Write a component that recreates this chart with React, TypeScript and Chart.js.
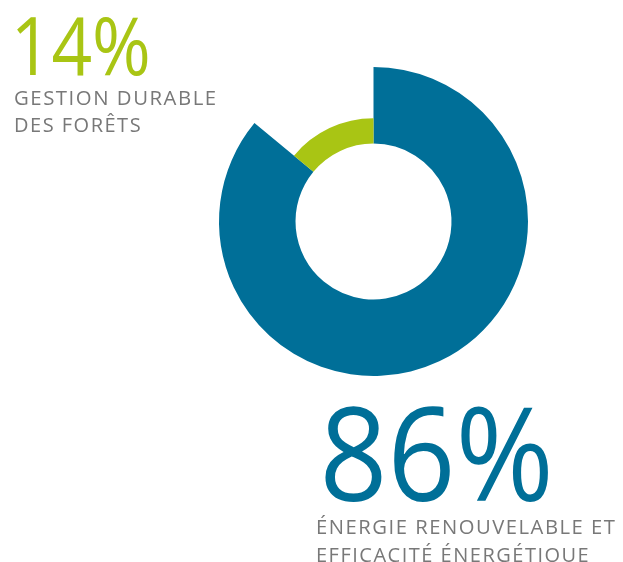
import React, { useEffect, useRef } from "react";
import { Chart, registerables } from "chart.js";

Chart.register(...registerables);

const categories = ["Énergie renouvelable et efficacité énergétique", "Gestion durable des forêts"];
const values = [86, 14];
const colors = ["#006f98", "#a9c514"];
const pctLabels = ["86%", "14%"];
const captionsGreen = ["GESTION DURABLE", "DES FORÊTS"];
const captionsBlue = ["ÉNERGIE RENOUVELABLE ET", "EFFICACITÉ ÉNERGÉTIOUE"];

const FONT = '"Open Sans", "DejaVu Sans", sans-serif';

function drawFit(
  ctx: CanvasRenderingContext2D,
  text: string,
  font: string,
  spacing: string,
  left: number,
  width: number | null,
  baseline: number
) {
  ctx.save();
  ctx.font = font;
  (ctx as any).letterSpacing = spacing;
  const m = ctx.measureText(text);
  const inkW = m.actualBoundingBoxLeft + m.actualBoundingBoxRight;
  const sx = width ? width / inkW : 1;
  ctx.translate(left, baseline);
  ctx.scale(sx, 1);
  ctx.fillText(text, m.actualBoundingBoxLeft, 0);
  ctx.restore();
}

export default function App() {
  const ref = useRef<HTMLCanvasElement | null>(null);
  useEffect(() => {
    document.body.style.margin = "0";
    const canvas = ref.current!;
    const ringPlugin = {
      id: "ringPlugin",
      afterDatasetUpdate(chart: any) {
        const meta = chart.getDatasetMeta(0);
        const outer = meta.data[0].outerRadius;
        const inner = meta.data[0].innerRadius;
        meta.data.forEach((el: any, i: number) => {
          if (i === 1) el.outerRadius = inner + (outer - inner) * 0.33;
        });
      },
      afterDraw(chart: any) {
        const ctx = chart.ctx as CanvasRenderingContext2D;
        ctx.save();
        ctx.textBaseline = "alphabetic";
        ctx.textAlign = "left";
        ctx.fillStyle = colors[1];
        drawFit(ctx, pctLabels[1], `400 80px ${FONT}`, "0px", 17, 131, 75);
        ctx.fillStyle = colors[0];
        drawFit(ctx, pctLabels[0], `400 130px ${FONT}`, "0px", 325, 223, 501);
        ctx.fillStyle = "#787878";
        const cap = `400 20px ${FONT}`;
        drawFit(ctx, captionsGreen[0], cap, "1.5px", 15, 200, 105);
        drawFit(ctx, captionsGreen[1], cap, "1.5px", 15, null, 132);
        drawFit(ctx, captionsBlue[0], cap, "1.5px", 317, 298, 534);
        drawFit(ctx, captionsBlue[1], cap, "1.5px", 317, null, 562);
        ctx.restore();
      },
    };
    const chart = new Chart(canvas, {
      type: "doughnut",
      data: {
        labels: categories,
        datasets: [
          {
            data: values,
            backgroundColor: colors,
            borderWidth: 0,
          },
        ],
      },
      options: {
        responsive: false,
        animation: false,
        cutout: 78,
        layout: { padding: { left: 219, top: 67, right: 95, bottom: 186 } },
        plugins: { legend: { display: false }, tooltip: { enabled: false } },
      },
      plugins: [ringPlugin],
    });
    return () => chart.destroy();
  }, []);
  return <canvas ref={ref} width={623} height={562} style={{ display: "block" }} />;
}
